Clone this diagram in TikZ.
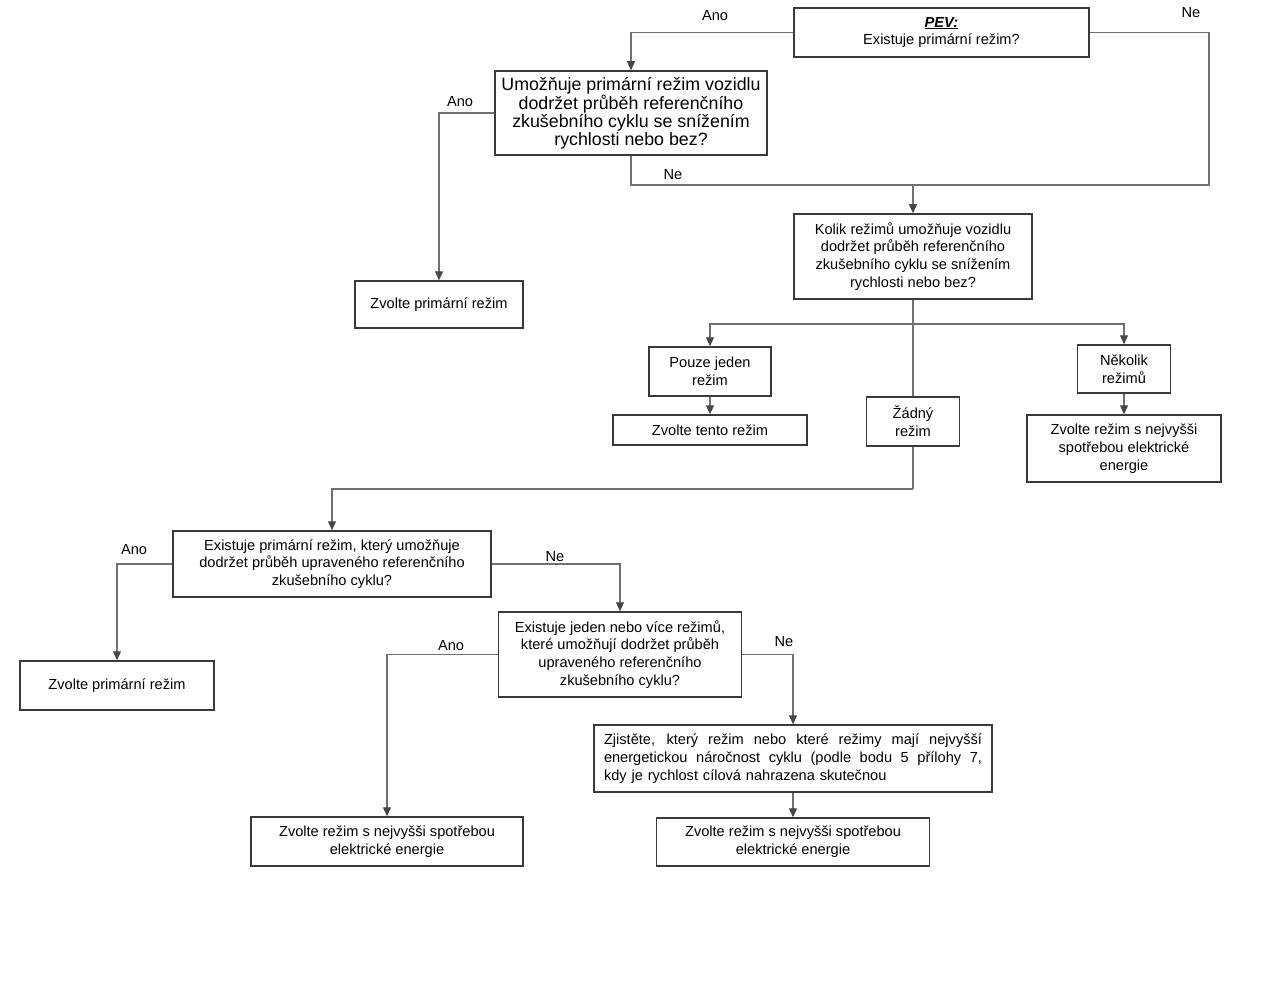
\documentclass[tikz,border=0pt]{standalone}
\usepackage{fontspec}
\setmainfont{Liberation Sans}
\usetikzlibrary{arrows.meta,calc}
\definecolor{boxc}{HTML}{3A3A3A}
\definecolor{linec}{HTML}{707070}
\definecolor{tipc}{HTML}{404850}
\newcommand\jline[1]{\leavevmode\hbox to 378pt{\spaceskip=0.28em plus 1fil\relax #1}}
\tikzset{
  box/.style={draw=boxc, line width=1.5pt, align=center, inner sep=2pt,
    font=\fontsize{14.6}{17.8}\selectfont},
  conn/.style={draw=linec, line width=1.2pt},
  arr/.style={conn, -{Triangle[length=9pt,width=8pt,color=tipc]}},
  lbl/.style={font=\fontsize{14.6}{16}\selectfont, inner sep=0pt}
}
\begin{document}
\begin{tikzpicture}[x=1pt,y=-1pt]
\useasboundingbox (0,0) rectangle (1284,1000);
\fill[white] (0,0) rectangle (1284,1000);
% boxes
\node[box, minimum width=295pt, minimum height=49pt] (PEV) at (941.5,32.5)
  {\textbf{\textit{\underline{PEV:}}}\\Existuje primární režim?};
\node[box, minimum width=272pt, minimum height=84pt, font=\fontsize{17.8}{18}\selectfont] (Q1) at (631,113)
  {Umožňuje primární režim vozidlu\\dodržet průběh referenčního\\zkušebního cyklu se snížením\\rychlosti nebo bez?};
\node[box, minimum width=238pt, minimum height=85pt] (Kolik) at (913,256.5)
  {Kolik režimů umožňuje vozidlu\\dodržet průběh referenčního\\zkušebního cyklu se snížením\\rychlosti nebo bez?};
\node[box, minimum width=168pt, minimum height=47pt] (ZP1) at (439,304.5)
  {Zvolte primární režim};
\node[box, minimum width=122pt, minimum height=49pt] (Pouze) at (710,371.5)
  {Pouze jeden\\režim};
\node[box, minimum width=194pt, minimum height=30pt] (ZT) at (710,430)
  {Zvolte tento režim};
\node[box, minimum width=93pt, minimum height=49pt] (Zadny) at (913,421.5)
  {Žádný\\režim};
\node[box, minimum width=93pt, minimum height=48pt] (Nekolik) at (1124,369)
  {Několik\\režimů};
\node[box, minimum width=194pt, minimum height=67pt] (ZR1) at (1124,448.5)
  {Zvolte režim s nejvyšši\\spotřebou elektrické\\energie};
\node[box, minimum width=318pt, minimum height=66pt] (EP) at (332,564)
  {Existuje primární režim, který umožňuje\\dodržet průběh upraveného referenčního\\zkušebního cyklu?};
\node[box, minimum width=194pt, minimum height=49pt] (ZP2) at (117,685.5)
  {Zvolte primární režim};
\node[box, minimum width=243pt, minimum height=85pt] (EJ) at (620,654.5)
  {Existuje jeden nebo více režimů,\\které umožňují dodržet průběh\\upraveného referenčního\\zkušebního cyklu?};
\node[box, minimum width=398pt, minimum height=67pt, text width=378pt, align=left] (ZJ) at (793,758.5)
  {\jline{Zjistěte, který režim nebo které režimy mají nejvyšší}\\
   \jline{energetickou náročnost cyklu (podle bodu 5 přílohy 7,}\\
   kdy je rychlost cílová nahrazena skutečnou};
\node[box, minimum width=272pt, minimum height=49pt] (ZR2) at (387,841.5)
  {Zvolte režim s nejvyšši spotřebou\\elektrické energie};
\node[box, minimum width=273pt, minimum height=48pt] (ZR3) at (793,842)
  {Zvolte režim s nejvyšši spotřebou\\elektrické energie};
% junctions
\coordinate (j1) at (913,185);
\coordinate (ner) at (1209,185);
\coordinate (j2) at (913,324);
\coordinate (j3) at (913,489);
% connectors
\draw[arr] (PEV.west) -| (Q1.north);
\draw[conn] (PEV.east) -| (ner) -- (j1);
\draw[conn] (Q1.south) |- (j1);
\draw[arr] (j1) -- (Kolik.north);
\draw[arr] (Q1.west) -| (ZP1.north);
\draw[conn] (Kolik.south) -- (j2);
\draw[arr] (j2) -| (Pouze.north);
\draw[arr] (j2) -| (Nekolik.north);
\draw[conn] (j2) -- (Zadny.north);
\draw[arr] (Pouze.south) -- (ZT.north);
\draw[arr] (Nekolik.south) -- (ZR1.north);
\draw[conn] (Zadny.south) -- (j3);
\draw[arr] (j3) -| (EP.north);
\draw[arr] (EP.west) -| (ZP2.north);
\draw[arr] (EP.east) -| (EJ.north);
\draw[arr] (EJ.west) -| (ZR2.north);
\draw[arr] (EJ.east) -| (ZJ.north);
\draw[arr] (ZJ.south) -- (ZR3.north);
% labels
\node[lbl] (l1) at (715,16) {Ano};
\node[lbl] (l2) at (1191,13) {Ne};
\node[lbl] (l3) at (673,175) {Ne};
\node[lbl] (l4) at (460,102) {Ano};
\node[lbl] (l5) at (134,550) {Ano};
\node[lbl] (l6) at (555,557) {Ne};
\node[lbl] (l7) at (451,646) {Ano};
\node[lbl] (l8) at (784,642) {Ne};
\end{tikzpicture}
\end{document}
